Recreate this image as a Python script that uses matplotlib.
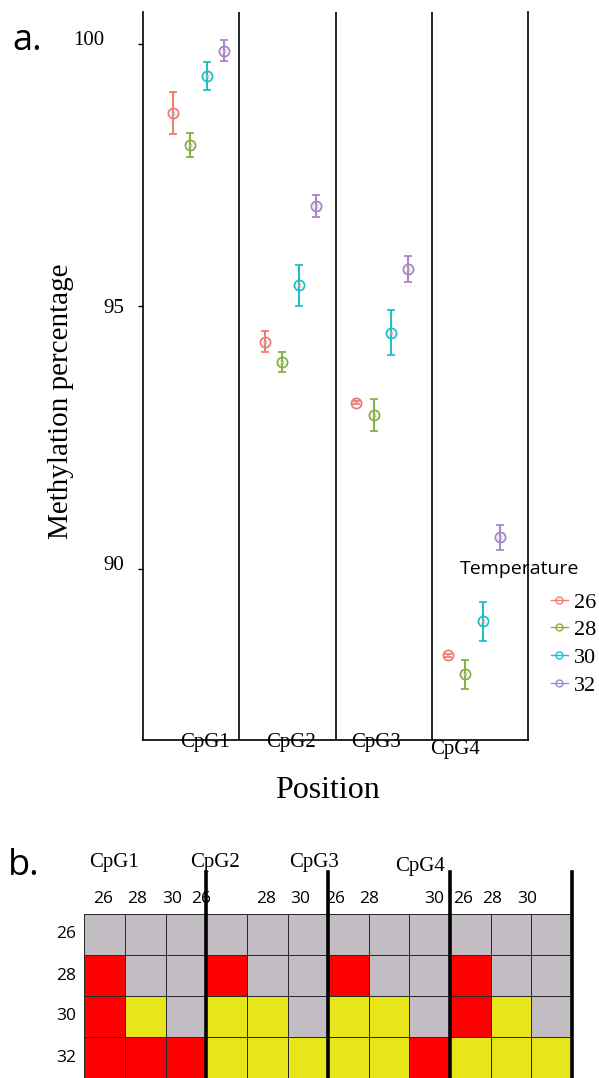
import numpy as np
import matplotlib
matplotlib.use("Agg")
import matplotlib.pyplot as plt
from matplotlib.colors import ListedColormap
from matplotlib.lines import Line2D
from matplotlib.transforms import ScaledTranslation, blended_transform_factory

# ---- panel a data ----
positions = ["CpG1", "CpG2", "CpG3", "CpG4"]
temps = ["26", "28", "30", "32"]
meth_26 = [98.69, 94.33, 93.17, 88.35]
meth_28 = [98.08, 93.95, 92.93, 87.99]
meth_30 = [99.39, 95.40, 94.50, 89.00]
meth_32 = [99.87, 96.91, 95.72, 90.60]
err_26 = [0.40, 0.20, 0.03, 0.03]
err_28 = [0.23, 0.19, 0.30, 0.28]
err_30 = [0.27, 0.39, 0.43, 0.37]
err_32 = [0.20, 0.21, 0.25, 0.24]
colors = ["#F07C74", "#86B143", "#22BFC5", "#A985C9"]

# ---- panel b data: 0 = grey, 1 = red, 2 = yellow ----
row_temps = ["26", "28", "30", "32"]
col_temps = ["26", "28", "30"] * 4
hm_row_26 = [0, 0, 0, 0, 0, 0, 0, 0, 0, 0, 0, 0]
hm_row_28 = [1, 0, 0, 1, 0, 0, 1, 0, 0, 1, 0, 0]
hm_row_30 = [1, 2, 0, 2, 2, 0, 2, 2, 0, 1, 2, 0]
hm_row_32 = [1, 1, 1, 2, 2, 2, 2, 2, 1, 2, 2, 2]
hm_colors = ["#C1BDC3", "#FF0000", "#E8E619"]

SERIF = "Liberation Serif"
SANS = "Open Sans"

W, H = 599, 1078
fig = plt.figure(figsize=(W / 100, H / 100), dpi=100)

# ================= panel a =================
ax = fig.add_axes([143 / W, 1 - 740 / H, (528 - 143) / W, (740 - 12) / H])
ax.set_xlim(0.395, 4.588)
ax.set_ylim(86.74, 100.61)

means = [meth_26, meth_28, meth_30, meth_32]
errs = [err_26, err_28, err_30, err_32]
dodge = 0.187
xc = np.arange(1, len(positions) + 1)
for i, (m, e, c) in enumerate(zip(means, errs, colors)):
    xs = xc + (i - 1.5) * dodge
    ax.errorbar(xs, m, yerr=e, fmt="o", mfc="none", mec=c, ecolor=c, ms=7.3,
                mew=1.3, elinewidth=1.5, capsize=2.6, capthick=1.3, zorder=3)
    ax.plot(xs, m, "x", color="#b0b0b0", ms=3, mew=0.6, zorder=4)

for xs in [1.44, 2.5, 3.54]:
    ax.axvline(xs, color="black", lw=1.2, zorder=1)

for side in ["left", "bottom", "right"]:
    ax.spines[side].set_linewidth(1.2)
ax.spines["top"].set_visible(False)

ax.set_yticks([90, 95, 100])
ax.set_yticklabels(["90", "95", "100"], fontfamily=SERIF, fontsize=15)
ax.tick_params(axis="y", direction="out", length=3.6, width=1, pad=10)
for lab, (dx, dy) in zip(ax.get_yticklabels(), [(0, 6), (0, 0), (-20, 6)]):
    lab.set_transform(lab.get_transform() +
                      ScaledTranslation(dx / 100, dy / 100, fig.dpi_scale_trans))

ax.set_xticks([1.07, 2.007, 2.932, 3.793])
ax.set_xticklabels(positions, fontfamily=SERIF, fontsize=15)
ax.tick_params(axis="x", length=0, pad=-5)
lab4 = ax.get_xticklabels()[3]
lab4.set_transform(lab4.get_transform() +
                   ScaledTranslation(0, -7 / 100, fig.dpi_scale_trans))

fig.text(61 / W, 1 - 401 / H, "Methylation percentage", rotation=90,
         ha="center", va="center", fontfamily=SERIF, fontsize=21)
fig.text(327 / W, 1 - 790 / H, "Position", ha="center", va="center",
         fontfamily=SERIF, fontsize=23)

handles = [Line2D([], [], color=c, marker="o", mfc="none", ms=5, mew=1, lw=1)
           for c in colors]
leg = ax.legend(handles, temps, loc="upper left",
                bbox_to_anchor=(551 / W, 1 - 592 / H),
                bbox_transform=fig.transFigure, frameon=False,
                prop={"family": SERIF, "size": 16}, handlelength=0.75,
                handletextpad=0.3, labelspacing=0.32, borderpad=0,
                borderaxespad=0)
fig.text(460 / W, 1 - 569 / H, "Temperature", ha="left", va="center",
         fontfamily=SANS, fontsize=14)

fig.text(12 / W, 1 - 50 / H, "a.", ha="left", va="baseline",
         fontfamily=SANS, fontsize=26)
fig.text(8 / W, 1 - 875 / H, "b.", ha="left", va="baseline",
         fontfamily=SANS, fontsize=26)

# ================= panel b =================
hm = np.array([hm_row_26, hm_row_28, hm_row_30, hm_row_32])
bx = fig.add_axes([84.3 / W, 0, (572 - 84.3) / W, (1078 - 914) / H])
bx.pcolormesh(hm, cmap=ListedColormap(hm_colors), vmin=-0.5, vmax=2.5,
              edgecolors="#2a2a2a", linewidth=0.7)
bx.set_xlim(0, hm.shape[1])
bx.set_ylim(hm.shape[0], 0)
bx.set_xticks([])
bx.set_yticks([])
for s in bx.spines.values():
    s.set_visible(False)

tb = blended_transform_factory(bx.transData, bx.transAxes)
for xs in [3, 6, 9, 12]:
    bx.plot([xs, xs], [0, 1.256], transform=tb, color="black", lw=2.6,
            clip_on=False, zorder=5)

col_label_x = [0.46, 1.31, 2.17, 2.88, 4.47, 5.31, 6.17, 7.01, 8.60,
               9.32, 10.03, 10.89]
for xs, t in zip(col_label_x, col_temps):
    bx.text(xs, 1.091, t, transform=tb, ha="center", va="center",
            fontfamily=SANS, fontsize=12.5)

group_label_x = [0.72, 3.22, 5.65, 8.26]
group_label_y = [1.311, 1.311, 1.311, 1.287]
for xs, ys, t in zip(group_label_x, group_label_y, positions):
    bx.text(xs, ys, t, transform=tb, ha="center", va="center",
            fontfamily=SERIF, fontsize=15)

for r, t in enumerate(row_temps):
    bx.text(-0.2, r + 0.5, t, ha="right", va="center",
            fontfamily=SANS, fontsize=12.5)

fig.savefig("out.png", dpi=100)
